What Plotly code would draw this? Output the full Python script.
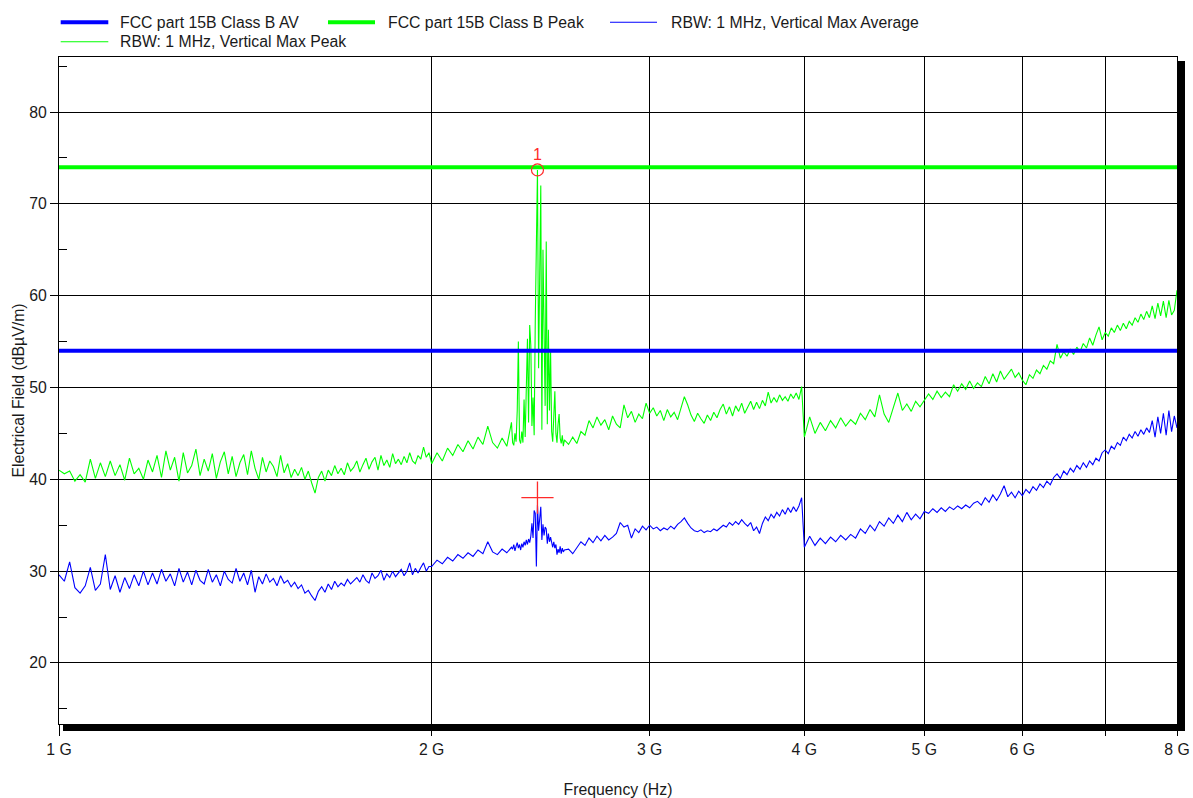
import math
import plotly.graph_objects as go

# ---------------- data (frequencies in MHz, levels in dBuV/m) ----------------
FREQ_A_MHZ = list(range(1000, 2000, 10))      # 1000 .. 1990
FREQ_B_MHZ = list(range(2000, 2340, 20))      # 2000 .. 2320
FREQ_C_MHZ = list(range(2325, 2565, 5))       # 2325 .. 2560
FREQ_D_MHZ = list(range(2580, 4000, 20))      # 2580 .. 3980
FREQ_E_MHZ = list(range(4000, 8040, 40))      # 4000 .. 8000

PEAK_A = [41.0, 40.6, 40.9, 39.8, 40.5, 39.7, 42.2, 40.1, 41.8, 40.3,
          42.0, 40.4, 41.6, 39.9, 42.3, 40.6, 41.2, 40.0, 42.1, 40.8,
          42.6, 40.2, 43.1, 41.0, 42.4, 39.8, 42.9, 40.7, 41.5, 43.3,
          40.4, 42.2, 40.9, 42.8, 40.1, 41.9, 43.0, 40.6, 42.5, 40.3,
          41.8, 42.7, 40.5, 43.1, 41.2, 40.0, 42.4, 40.8, 42.0, 41.4,
          40.3, 42.6, 40.7, 41.7, 40.2, 41.1, 40.4, 41.3, 40.0, 40.9,
          39.6, 38.5, 40.2, 40.9, 39.8, 41.0, 40.4, 41.5, 40.6, 41.2,
          40.5, 41.8, 40.9, 41.3, 42.0, 40.8, 41.6, 42.3, 41.1, 41.9,
          42.4, 41.0, 42.6, 41.5, 42.1, 41.3, 42.8, 41.7, 42.2, 41.6,
          42.5, 41.8, 42.9, 42.0, 41.7, 42.6, 42.2, 43.5, 42.4, 42.9]
PEAK_B = [41.7, 42.9, 42.0, 43.4, 42.6, 43.8, 43.0, 44.2, 43.3, 44.6,
          43.8, 45.8, 44.0, 43.4, 44.5, 43.6, 46.2]
PEAK_C = [44.0, 43.7, 45.0, 44.1, 47.5, 55.0, 44.3, 43.9, 45.2, 44.0, 48.7, 44.6,
          52.0, 55.3, 46.2, 56.8, 54.6, 45.8, 48.9, 44.8, 57.2, 65.3, 73.7, 52.1,
          62.5, 72.0, 45.4, 65.0, 56.3, 48.0, 65.9, 46.0, 56.3, 47.5, 54.2, 45.2,
          44.1, 46.8, 49.6, 45.0, 44.0, 46.0, 47.1, 44.5, 43.9, 44.8, 43.6, 44.3]
PEAK_D = [43.8, 44.6, 43.9, 45.2, 44.8, 46.4, 45.6, 46.8, 45.9, 46.5,
          45.4, 46.9, 46.0, 45.6, 48.1, 46.7, 47.4, 46.2, 47.1, 46.6,
          48.3, 47.2, 47.8, 46.9, 47.5, 46.4, 47.6, 46.8, 47.3, 46.5,
          47.9, 49.0, 48.1, 47.0, 46.3, 47.2, 46.6, 46.1, 47.0, 46.4,
          47.3, 46.7, 47.6, 48.2, 47.1, 47.9, 46.9, 48.0, 47.4, 48.3,
          47.2, 47.8, 48.5, 47.6, 48.4, 47.7, 48.6, 48.0, 49.5, 48.3,
          48.9, 48.4, 49.2, 48.6, 49.0, 48.5, 49.3, 48.8, 49.4, 48.7,
          50.1]
PEAK_E = [44.6, 46.8, 45.0, 46.2, 45.3, 46.4, 45.6, 46.7, 45.8, 46.5,
          46.0, 47.2, 46.5, 47.6, 46.8, 49.2, 47.1, 46.2, 47.8, 49.4,
          47.5, 48.2, 47.4, 48.5, 47.9, 48.6, 49.3, 48.7, 49.6, 48.9,
          49.5, 49.0, 50.3, 49.6, 50.4, 49.8, 50.7, 49.9, 50.5, 50.1,
          51.2, 50.4, 51.5, 50.6, 51.8, 50.9, 51.4, 52.0, 51.1, 51.6,
          50.8, 50.3, 51.4, 51.0, 51.9, 51.5, 52.4, 52.0, 52.9, 52.6,
          54.7, 53.2, 53.9, 53.4, 54.2, 53.6, 54.4, 53.9, 54.8, 54.3,
          55.4, 54.6, 55.7, 56.6, 55.2, 56.0, 55.6, 56.5, 56.0, 56.8,
          56.2, 57.0, 56.4, 57.2, 56.8, 57.6, 57.1, 58.0, 57.4, 58.3,
          57.6, 58.9, 57.5, 59.2, 57.8, 59.4, 57.6, 59.5, 57.9, 58.4,
          60.6]

AVG_A = [29.6, 28.9, 31.0, 28.2, 27.6, 28.4, 30.4, 27.9, 28.6, 31.8,
         28.0, 29.5, 27.7, 29.3, 28.1, 29.6, 28.4, 30.0, 28.5, 29.8,
         28.6, 30.2, 28.9, 29.7, 28.4, 30.3, 28.8, 29.9, 28.5, 30.1,
         29.0, 28.6, 30.2, 28.8, 29.6, 28.4, 30.0, 29.1, 28.7, 30.3,
         28.9, 29.8, 28.5, 30.1, 27.7, 29.4, 28.6, 29.7, 28.8, 29.2,
         28.4, 29.5, 28.7, 29.0, 28.3, 28.8, 28.1, 28.5, 27.6, 27.9,
         27.3, 26.8, 27.8, 28.3, 27.7, 28.6, 28.0, 28.9, 28.3, 28.7,
         28.4, 29.1, 28.6, 28.9, 29.3, 28.8, 29.6, 29.0, 28.7, 29.8,
         29.2, 29.5, 30.1, 29.0, 29.7, 29.3, 30.0, 29.4, 29.8, 30.2,
         29.5, 30.0, 30.9, 29.6, 30.3, 29.8, 30.4, 30.9, 30.0, 30.5]
AVG_B = [30.5, 31.2, 30.8, 31.5, 31.1, 31.8, 31.4, 32.0, 31.6, 32.3,
         31.9, 33.2, 32.1, 31.8, 32.4, 32.0, 32.6]
AVG_C = [32.4, 32.9, 32.2, 32.7, 33.1, 32.5, 32.9, 32.3, 33.0, 32.6, 33.2, 32.8,
         33.4, 32.9, 33.5, 33.1, 33.8, 35.2, 33.6, 36.6, 36.3, 30.5, 37.2, 34.4,
         36.0, 37.0, 33.4, 35.1, 33.9, 34.8, 34.6, 33.0, 34.1, 33.2, 33.7, 33.0,
         32.6, 33.2, 32.5, 32.9, 31.8, 32.4, 32.0, 32.7, 31.9, 32.5, 32.1, 32.3]
AVG_D = [32.4, 31.9, 32.6, 33.2, 32.8, 33.6, 33.1, 33.8, 33.3, 33.9,
         33.4, 33.7, 34.1, 35.3, 34.8, 35.0, 33.6, 34.6, 34.2, 34.9,
         34.5, 35.0, 34.6, 34.8, 34.4, 34.7, 34.5, 34.9, 34.6, 35.1,
         35.4, 35.8, 35.2, 34.7, 34.4, 34.3, 34.5, 34.2, 34.4, 34.3,
         34.6, 34.4, 34.7, 35.0, 34.8, 35.3, 35.0, 35.4, 35.1, 35.6,
         35.2, 34.9, 35.3, 34.4, 34.8, 34.1, 35.2, 35.9, 35.5, 36.2,
         35.8, 36.4, 36.0, 36.7, 36.2, 36.9, 36.4, 37.0, 36.5, 37.1,
         38.0]
AVG_E = [32.6, 33.8, 32.8, 33.6, 33.0, 33.7, 33.2, 33.9, 33.4, 34.0,
         33.6, 34.6, 34.1, 35.0, 34.4, 35.4, 34.9, 35.8, 35.2, 36.1,
         35.4, 36.4, 35.6, 36.2, 35.7, 36.5, 36.3, 36.8, 36.4, 36.9,
         36.5, 37.0, 36.7, 37.1, 36.8, 37.2, 36.9, 37.4, 37.6, 37.2,
         38.0, 37.5, 38.3, 37.7, 38.4, 39.3, 38.1, 38.6, 38.0, 38.7,
         38.2, 38.9, 38.5, 39.2, 38.8, 39.5, 39.1, 39.8, 39.4, 40.2,
         40.6, 40.1, 40.9, 40.5, 41.2, 40.8, 41.5, 41.1, 41.8, 41.3,
         42.0, 41.6, 42.3, 42.0, 42.9, 43.2, 42.8, 43.6, 43.3, 44.0,
         43.7, 44.6, 44.2, 44.9, 44.5, 45.2, 44.7, 45.4, 44.9, 45.6,
         45.1, 46.4, 44.6, 46.8, 45.0, 47.2, 44.8, 47.5, 45.2, 46.9,
         45.6]

LIMIT_FREQ_MHZ = [1000, 8000]
LIMIT_AV = 54.0
LIMIT_PEAK = 74.0

MARKER_FREQ_MHZ = 2435
MARKER_PEAK_LEVEL = 73.7
MARKER_AVG_LEVEL = 38.0
MARKER_LABEL = "1"

X_TICK_HZ = [1e9, 2e9, 3e9, 4e9, 5e9, 6e9, 7e9, 8e9]
X_TICK_TEXT = ["1 G", "2 G", "3 G", "4 G", "5 G", "6 G", "", "8 G"]
Y_TICKS = [20, 30, 40, 50, 60, 70, 80]
Y_RANGE = [13.35, 86.0]

NAME_AV = "FCC part 15B Class B AV"
NAME_PK = "FCC part 15B Class B Peak"
NAME_AVG_TRACE = "RBW: 1 MHz, Vertical Max Average"
NAME_PK_TRACE = "RBW: 1 MHz, Vertical Max Peak"

# ---------------- assemble ----------------
freq_mhz = FREQ_A_MHZ + FREQ_B_MHZ + FREQ_C_MHZ + FREQ_D_MHZ + FREQ_E_MHZ
peak = PEAK_A + PEAK_B + PEAK_C + PEAK_D + PEAK_E
avg = AVG_A + AVG_B + AVG_C + AVG_D + AVG_E
freq_hz = [f * 1e6 for f in freq_mhz]

BLUE = "#0000FF"
GREEN = "#00FF00"
RED = "#FF2A2A"
TXT = "#1a1a1a"
FONT = "Liberation Sans"
FS = 15.8

W, H = 1193, 798
ML, MR, MT, MB = 59, 16, 57, 74
PW = W - ML - MR
PH = H - MT - MB


def pxx(x):
    return (x - ML) / PW


def pxy(y):
    return (H - MB - y) / PH


fig = go.Figure()
fig.add_trace(go.Scatter(x=freq_hz, y=peak, mode="lines", name=NAME_PK_TRACE,
                         line=dict(color=GREEN, width=1.1), showlegend=False))
fig.add_trace(go.Scatter(x=freq_hz, y=avg, mode="lines", name=NAME_AVG_TRACE,
                         line=dict(color=BLUE, width=1.1), showlegend=False))
fig.add_trace(go.Scatter(x=[f * 1e6 for f in LIMIT_FREQ_MHZ], y=[LIMIT_AV] * 2,
                         mode="lines", name=NAME_AV,
                         line=dict(color=BLUE, width=4), showlegend=False))
fig.add_trace(go.Scatter(x=[f * 1e6 for f in LIMIT_FREQ_MHZ], y=[LIMIT_PEAK] * 2,
                         mode="lines", name=NAME_PK,
                         line=dict(color=GREEN, width=4), showlegend=False))
fig.add_trace(go.Scatter(x=[MARKER_FREQ_MHZ * 1e6], y=[MARKER_PEAK_LEVEL], mode="markers",
                         marker=dict(symbol="circle-open", size=12, color=RED,
                                     line=dict(width=1.2, color=RED)),
                         showlegend=False, hoverinfo="skip"))
fig.add_trace(go.Scatter(x=[MARKER_FREQ_MHZ * 1e6], y=[MARKER_AVG_LEVEL], mode="markers",
                         marker=dict(symbol="cross-thin", size=23, color=RED,
                                     line=dict(width=1.3, color=RED)),
                         showlegend=False, hoverinfo="skip"))

annotations = [
    dict(x=math.log10(MARKER_FREQ_MHZ * 1e6), y=MARKER_PEAK_LEVEL, xref="x", yref="y",
         text=MARKER_LABEL, showarrow=False, yanchor="bottom", yshift=5,
         font=dict(family=FONT, size=16, color=RED)),
]

# custom legend (shapes + text)
shapes = []
legend_items = [
    (NAME_AV, BLUE, 4, 60.7, 108.3, 118, 22.3),
    (NAME_PK, GREEN, 4, 328, 375, 386, 22.3),
    (NAME_AVG_TRACE, BLUE, 1.1, 610, 657, 669, 22.3),
    (NAME_PK_TRACE, GREEN, 1.1, 60.7, 108.3, 118, 41.7),
]
for name, col, wdt, lx0, lx1, tx, ly in legend_items:
    shapes.append(dict(type="line", xref="paper", yref="paper",
                       x0=pxx(lx0), x1=pxx(lx1), y0=pxy(ly), y1=pxy(ly),
                       line=dict(color=col, width=wdt)))
    annotations.append(dict(x=pxx(tx), y=pxy(ly), xref="paper", yref="paper",
                            text=name, showarrow=False, xanchor="left", yanchor="middle",
                            font=dict(family=FONT, size=FS, color=TXT)))

# drop shadow of the plot frame
shapes.append(dict(type="rect", xref="paper", yref="paper", layer="above",
                   x0=pxx(63), x1=pxx(1185), y0=pxy(731), y1=pxy(724.5),
                   fillcolor="black", line=dict(width=0)))
shapes.append(dict(type="rect", xref="paper", yref="paper", layer="above",
                   x0=pxx(1177.5), x1=pxx(1185), y0=pxy(731), y1=pxy(61),
                   fillcolor="black", line=dict(width=0)))

fig.update_layout(
    width=W, height=H, autosize=False,
    margin=dict(l=ML, r=MR, t=MT, b=MB, pad=0, autoexpand=False),
    paper_bgcolor="white", plot_bgcolor="white",
    font=dict(family=FONT, size=FS, color=TXT),
    showlegend=False,
    shapes=shapes, annotations=annotations,
    xaxis=dict(type="log", range=[9, math.log10(8e9)], automargin=False,
               tickvals=X_TICK_HZ, ticktext=X_TICK_TEXT,
               ticks="outside", ticklen=11, tickwidth=1, tickcolor="black",
               showgrid=True, gridcolor="black", gridwidth=1,
               showline=True, mirror=True, linecolor="black", linewidth=1,
               zeroline=False, tickfont=dict(family=FONT, size=FS, color=TXT),
               title=dict(text="Frequency (Hz)", standoff=27,
                          font=dict(family=FONT, size=FS, color=TXT))),
    yaxis=dict(range=Y_RANGE, tickvals=Y_TICKS, automargin=False,
               ticks="outside", ticklen=8, tickwidth=1, tickcolor="black",
               minor=dict(ticks="inside", ticklen=8, tick0=15, dtick=10,
                          tickcolor="black", showgrid=False),
               showgrid=True, gridcolor="black", gridwidth=1,
               showline=True, mirror=True, linecolor="black", linewidth=1,
               zeroline=False, tickfont=dict(family=FONT, size=FS, color=TXT),
               title=dict(text="Electrical Field (dBµV/m)", standoff=0,
                          font=dict(family=FONT, size=FS, color=TXT))),
)

fig.write_html(
    "out.html",
    config={"displayModeBar": False},
    post_script="document.body.style.margin='0';document.body.style.overflow='hidden';"
                "document.documentElement.style.overflow='hidden';",
)
